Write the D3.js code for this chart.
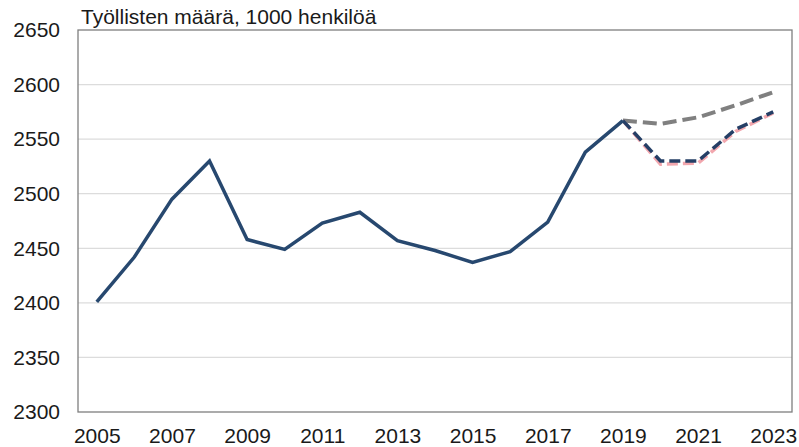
<!DOCTYPE html>
<html><head><meta charset="utf-8">
<script src="https://cdn.jsdelivr.net/npm/d3@7"></script>
<style>body{margin:0;background:#fff}svg{display:block}text{font-family:"Liberation Sans",Arial,sans-serif}</style>
</head><body>
<svg id="c" width="799" height="447"></svg>
<script>
const years = [2005,2006,2007,2008,2009,2010,2011,2012,2013,2014,2015,2016,2017,2018,2019,2020,2021,2022,2023];
const actual = [2401,2442,2495,2530,2458,2449,2473,2483,2457,2448,2437,2447,2474,2538,2567];
const actualYears = [2005,2006,2007,2008,2009,2010,2011,2012,2013,2014,2015,2016,2017,2018,2019];
const forecastYears = [2019,2020,2021,2022,2023];
const forecastGrey = [2567,2564,2570,2581,2593];
const forecastPink = [2567,2527,2528,2557,2574];
const forecastBlue = [2567,2530,2530,2559,2575];
const yTicks = [2300,2350,2400,2450,2500,2550,2600,2650];
const xTickLabels = [2005,2007,2009,2011,2013,2015,2017,2019,2021,2023];
const title = "Työllisten määrä, 1000 henkilöä";

const svg = d3.select("#c");
const L=78, R=792, T=30, B=412;
const x = d3.scalePoint().domain(years).range([L,R]).padding(0.5);
const y = d3.scaleLinear().domain([2300,2650]).range([B,T]);

// gridlines
svg.append("g").selectAll("line").data(yTicks.filter(v=>v>2300&&v<2650)).join("line")
  .attr("x1",L).attr("x2",R).attr("y1",d=>y(d)).attr("y2",d=>y(d))
  .attr("stroke","#dcdcdc").attr("stroke-width",1.2);

// border
svg.append("rect").attr("x",L).attr("y",T).attr("width",R-L).attr("height",B-T)
  .attr("fill","none").attr("stroke","#7f7f7f").attr("stroke-width",1.3);

// y axis
const ya = svg.append("g").attr("transform",`translate(${L},0)`)
  .call(d3.axisLeft(y).tickValues(yTicks).tickSize(0).tickPadding(18).tickFormat(d3.format("d")));
ya.select(".domain").remove();
ya.selectAll("text").attr("font-size",21).attr("fill","#1a1a1a").attr("font-family","Liberation Sans, Arial, sans-serif");

// x axis
const xa = svg.append("g").attr("transform",`translate(0,${B})`)
  .call(d3.axisBottom(x).tickValues(xTickLabels).tickSize(0).tickPadding(16).tickFormat(d3.format("d")));
xa.select(".domain").remove();
xa.selectAll("text").attr("font-size",21).attr("fill","#1a1a1a").attr("font-family","Liberation Sans, Arial, sans-serif");

// title
svg.append("text").attr("x",81).attr("y",24).attr("font-size",21).attr("fill","#1a1a1a").text(title);

const line = d3.line().x(d=>x(d[0])).y(d=>y(d[1]));
const zip = (a,b)=>a.map((v,i)=>[v,b[i]]);

svg.append("path").datum(zip(forecastYears,forecastGrey)).attr("d",line)
  .attr("fill","none").attr("stroke","#808080").attr("stroke-width",4).attr("stroke-dasharray","14,6");
svg.append("path").datum(zip(forecastYears,forecastPink)).attr("d",line)
  .attr("fill","none").attr("stroke","#f2a7ae").attr("stroke-width",3.5).attr("stroke-dasharray","11,5");
svg.append("path").datum(zip(forecastYears,forecastBlue)).attr("d",line)
  .attr("fill","none").attr("stroke","#253f66").attr("stroke-width",3.5).attr("stroke-dasharray","11,5");
svg.append("path").datum(zip(actualYears,actual)).attr("d",line)
  .attr("fill","none").attr("stroke","#27486f").attr("stroke-width",3.5).attr("stroke-linejoin","miter");
</script>
</body></html>
